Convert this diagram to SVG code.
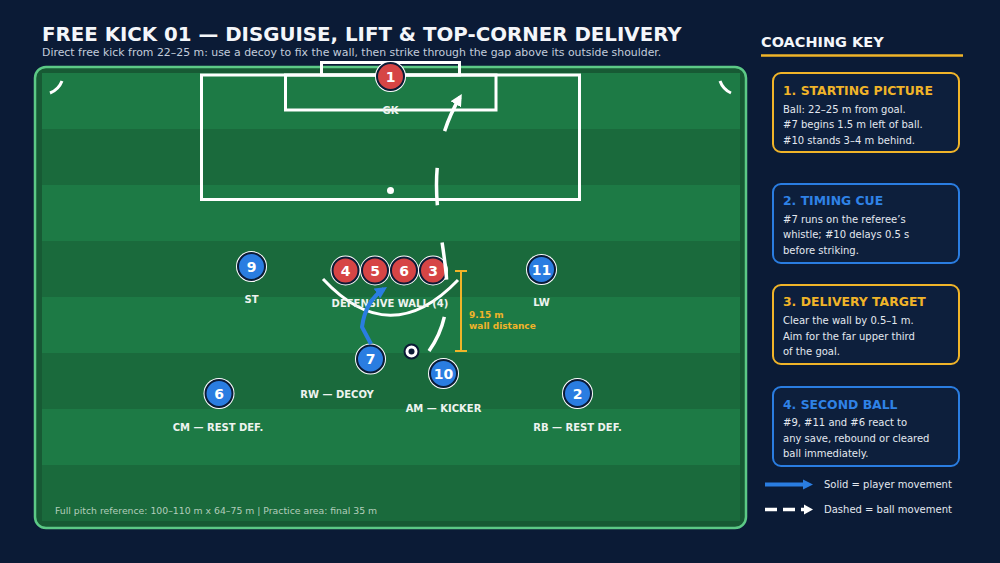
<svg xmlns="http://www.w3.org/2000/svg" width="1000" height="563" viewBox="0 0 1000 563">
  <style>
    text { font-family: "DejaVu Sans", "Liberation Sans", sans-serif; }
    .title { font-size: 19.8px; font-weight: bold; fill: #f4f6fa; }
    .subtitle { font-size: 10.9px; fill: #c3cddc; }
    .line { fill: none; stroke: #ffffff; stroke-width: 3; }
    .lbl { font-size: 10px; font-weight: bold; fill: #eef3ef; text-anchor: middle; }
    .num { font-size: 14px; font-weight: bold; fill: #ffffff; text-anchor: middle; }
    .ring { fill: #ffffff; }
    .red { fill: #d64545; stroke: #0b1b36; stroke-width: 2; }
    .blue { fill: #2a7de1; stroke: #0b1b36; stroke-width: 2; }
    .card { fill: #0d1f3c; stroke-width: 2; }
    .ctitle { font-size: 12.4px; font-weight: bold; }
    .cbody { font-size: 10px; fill: #e3e8ef; }
    .key { font-size: 14.5px; font-weight: bold; fill: #f4f6fa; }
    .foot { font-size: 9.3px; fill: #b3cdbb; }
    .dist { font-size: 9px; font-weight: bold; fill: #f0b429; }
  </style>
  <defs>
    <marker id="arrW" markerUnits="userSpaceOnUse" markerWidth="12" markerHeight="12" viewBox="0 0 10 10" refX="7" refY="5" orient="auto">
      <path d="M0,0 L10,5 L0,10 z" fill="#ffffff"/>
    </marker>
    <marker id="arrB" markerUnits="userSpaceOnUse" markerWidth="12" markerHeight="12" viewBox="0 0 10 10" refX="7" refY="5" orient="auto">
      <path d="M0,0 L10,5 L0,10 z" fill="#2a7de1"/>
    </marker>
  </defs>

  <rect width="1000" height="563" fill="#0b1b36"/>

  <text class="title" x="42" y="41">FREE KICK 01 — DISGUISE, LIFT &amp; TOP-CORNER DELIVERY</text>
  <text class="subtitle" x="42" y="56">Direct free kick from 22–25 m: use a decoy to fix the wall, then strike through the gap above its outside shoulder.</text>

  <!-- Pitch -->
  <g id="pitch">
    <rect x="35" y="67" width="711" height="461" rx="11" fill="#175a34" stroke="#5cc986" stroke-width="2.5"/>
    <rect x="42" y="73" width="698" height="56" fill="#1d7a45"/>
    <rect x="42" y="129" width="698" height="56" fill="#1a6a3c"/>
    <rect x="42" y="185" width="698" height="56" fill="#1d7a45"/>
    <rect x="42" y="241" width="698" height="56" fill="#1a6a3c"/>
    <rect x="42" y="297" width="698" height="56" fill="#1d7a45"/>
    <rect x="42" y="353" width="698" height="56" fill="#1a6a3c"/>
    <rect x="42" y="409" width="698" height="56" fill="#1d7a45"/>
    <rect x="42" y="465" width="698" height="56" fill="#1a6a3c"/>
    <rect class="line" x="201.5" y="75" width="378" height="124.5"/>
    <rect class="line" x="285.5" y="75" width="210.5" height="35"/>
    <rect class="line" x="321.5" y="62.5" width="138" height="12.5"/>
    <circle cx="390.5" cy="190.5" r="3.5" fill="#ffffff"/>
    <path class="line" d="M50 93 A21 21 0 0 0 62 81"/>
    <path class="line" d="M720 81 A21 21 0 0 0 731 93"/>
    <path class="line" d="M323 279 Q390 351 458 280"/>
    <text class="foot" x="55" y="514">Full pitch reference: 100–110 m x 64–75 m | Practice area: final 35 m</text>
  </g>

  <!-- Distance marker -->
  <g id="wall-distance">
    <path d="M461 271 V351 M455 271 H467 M455 351 H467" stroke="#f0b429" stroke-width="2" fill="none"/>
    <text class="dist" x="469" y="318">9.15 m</text>
    <text class="dist" x="469" y="329">wall distance</text>
  </g>

  <!-- Players -->
  <g id="gk">
    <circle class="ring" cx="390.5" cy="76.5" r="15.5"/>
    <circle class="red" cx="390.5" cy="76.5" r="13.5"/>
    <text class="num" x="390.5" y="81.5">1</text>
    <text class="lbl" x="390.5" y="114">GK</text>
  </g>
  <g id="wall">
    <circle class="ring" cx="345.5" cy="270.5" r="15"/>
    <circle class="red" cx="345.5" cy="270.5" r="13"/>
    <text class="num" x="345.5" y="275.5">4</text>
    <circle class="ring" cx="375" cy="270.5" r="15"/>
    <circle class="red" cx="375" cy="270.5" r="13"/>
    <text class="num" x="375" y="275.5">5</text>
    <circle class="ring" cx="404" cy="270.5" r="15"/>
    <circle class="red" cx="404" cy="270.5" r="13"/>
    <text class="num" x="404" y="275.5">6</text>
    <circle class="ring" cx="433" cy="270.5" r="15"/>
    <circle class="red" cx="433" cy="270.5" r="13"/>
    <text class="num" x="433" y="275.5">3</text>
    <text class="lbl" x="390" y="307">DEFENSIVE WALL (4)</text>
  </g>
  <g id="p9">
    <circle class="ring" cx="251.5" cy="266.5" r="15.5"/>
    <circle class="blue" cx="251.5" cy="266.5" r="13.5"/>
    <text class="num" x="251.5" y="271.5">9</text>
    <text class="lbl" x="251.5" y="303">ST</text>
  </g>
  <g id="p11">
    <circle class="ring" cx="541.5" cy="269.5" r="15.5"/>
    <circle class="blue" cx="541.5" cy="269.5" r="13.5"/>
    <text class="num" x="541.5" y="274.5">11</text>
    <text class="lbl" x="541.5" y="306">LW</text>
  </g>
  <g id="p7">
    <circle class="ring" cx="370.5" cy="359" r="15.5"/>
    <circle class="blue" cx="370.5" cy="359" r="13.5"/>
    <text class="num" x="370.5" y="364">7</text>
    <text class="lbl" x="337" y="398">RW — DECOY</text>
  </g>
  <g id="p10">
    <circle class="ring" cx="443.5" cy="373.5" r="15.5"/>
    <circle class="blue" cx="443.5" cy="373.5" r="13.5"/>
    <text class="num" x="443.5" y="378.5">10</text>
    <text class="lbl" x="443.5" y="412">AM — KICKER</text>
  </g>
  <g id="p6">
    <circle class="ring" cx="219" cy="393.5" r="15.5"/>
    <circle class="blue" cx="219" cy="393.5" r="13.5"/>
    <text class="num" x="219" y="398.5">6</text>
    <text class="lbl" x="218" y="431">CM — REST DEF.</text>
  </g>
  <g id="p2">
    <circle class="ring" cx="577.5" cy="393.5" r="15.5"/>
    <circle class="blue" cx="577.5" cy="393.5" r="13.5"/>
    <text class="num" x="577.5" y="398.5">2</text>
    <text class="lbl" x="577.5" y="431">RB — REST DEF.</text>
  </g>
  <g id="ball">
    <circle cx="411.5" cy="351.5" r="7" fill="#ffffff" stroke="#0b1b36" stroke-width="2"/>
    <circle cx="411.5" cy="351.5" r="3" fill="#0b1b36"/>
  </g>

  <!-- Connectors -->
  <g id="connectors">
    <path d="M429 351 C480 280 400 200 460 97" fill="none" stroke="#ffffff" stroke-width="3.5" pathLength="100" stroke-dasharray="14.29 14.29" marker-end="url(#arrW)"/>
    <path d="M371 344 L362 327 C364 312 370 298 384 289" fill="none" stroke="#2a7de1" stroke-width="4" stroke-linejoin="round" marker-end="url(#arrB)"/>
  </g>

  <!-- Coaching key -->
  <g id="key">
    <text class="key" x="761" y="47">COACHING KEY</text>
    <line x1="761" y1="55.5" x2="963" y2="55.5" stroke="#f0b429" stroke-width="2.5"/>
  </g>
  <g id="card1">
    <rect class="card" x="773" y="73" width="186" height="79" rx="8" stroke="#f0b429"/>
    <text class="ctitle" x="783" y="95" fill="#f0b429">1. STARTING PICTURE</text>
    <text class="cbody" x="783" y="112.5">Ball: 22–25 m from goal.</text>
    <text class="cbody" x="783" y="128">#7 begins 1.5 m left of ball.</text>
    <text class="cbody" x="783" y="143.5">#10 stands 3–4 m behind.</text>
  </g>
  <g id="card2">
    <rect class="card" x="773" y="184" width="186" height="79" rx="8" stroke="#2a7de1"/>
    <text class="ctitle" x="783" y="205" fill="#2f82e6">2. TIMING CUE</text>
    <text class="cbody" x="783" y="222.5">#7 runs on the referee’s</text>
    <text class="cbody" x="783" y="238">whistle; #10 delays 0.5 s</text>
    <text class="cbody" x="783" y="253.5">before striking.</text>
  </g>
  <g id="card3">
    <rect class="card" x="773" y="285" width="186" height="79" rx="8" stroke="#f0b429"/>
    <text class="ctitle" x="783" y="306" fill="#f0b429">3. DELIVERY TARGET</text>
    <text class="cbody" x="783" y="324">Clear the wall by 0.5–1 m.</text>
    <text class="cbody" x="783" y="339.5">Aim for the far upper third</text>
    <text class="cbody" x="783" y="355">of the goal.</text>
  </g>
  <g id="card4">
    <rect class="card" x="773" y="387" width="186" height="79" rx="8" stroke="#2a7de1"/>
    <text class="ctitle" x="783" y="408.5" fill="#2f82e6">4. SECOND BALL</text>
    <text class="cbody" x="783" y="426">#9, #11 and #6 react to</text>
    <text class="cbody" x="783" y="441.5">any save, rebound or cleared</text>
    <text class="cbody" x="783" y="457">ball immediately.</text>
  </g>
  <g id="legend">
    <line x1="765" y1="484.5" x2="804" y2="484.5" stroke="#2a7de1" stroke-width="4"/>
    <path d="M803 479.5 L813 484.5 L803 489.5 z" fill="#2a7de1"/>
    <text class="cbody" x="824" y="488">Solid = player movement</text>
    <line x1="765" y1="509.5" x2="806" y2="509.5" stroke="#ffffff" stroke-width="3.5" stroke-dasharray="12 6"/>
    <path d="M804 504.5 L813 509.5 L804 514.5 z" fill="#ffffff"/>
    <text class="cbody" x="824" y="513">Dashed = ball movement</text>
  </g>
</svg>
